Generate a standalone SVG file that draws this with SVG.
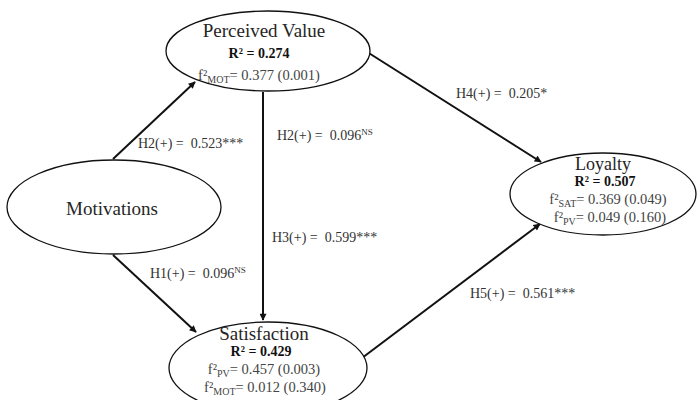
<svg xmlns="http://www.w3.org/2000/svg" width="699" height="400" viewBox="0 0 699 400">
<defs>
<marker id="arr" viewBox="0 0 10 10" refX="9" refY="5" markerWidth="8" markerHeight="7" markerUnits="userSpaceOnUse" orient="auto">
<path d="M0,0 L10,5 L0,10 Z" fill="#111"/>
</marker>
<style>
.edge{stroke:#111;stroke-width:2;fill:none;marker-end:url(#arr)}
.node{fill:#fff;stroke:#111;stroke-width:1.3}
text{font-family:"Liberation Serif","Times New Roman",serif}
.name{font-size:19px;fill:#262626;text-anchor:middle}
.r2{font-size:14px;font-weight:bold;fill:#111;text-anchor:middle}
.f2{font-size:14.5px;fill:#444;text-anchor:middle}
.lbl{font-size:14px;fill:#333}
</style>
</defs>
<rect width="699" height="400" fill="#fff"/>
<g id="connectors">
<line class="edge" x1="113" y1="159" x2="195" y2="82"/>
<line class="edge" x1="113" y1="255" x2="196" y2="332"/>
<line class="edge" x1="263" y1="92" x2="263" y2="320"/>
<line class="edge" x1="364" y1="50" x2="541" y2="162"/>
<line class="edge" x1="362" y1="358" x2="540" y2="224"/>
<g id="edge-labels">
<text class="lbl" x="138" y="148" xml:space="preserve">H2(+) =  0.523***</text>
<text class="lbl" x="277" y="140" xml:space="preserve">H2(+) =  0.096<tspan font-size="9" dy="-5">NS</tspan></text>
<text class="lbl" x="272" y="242" xml:space="preserve">H3(+) =  0.599***</text>
<text class="lbl" x="456" y="98" xml:space="preserve">H4(+) =  0.205*</text>
<text class="lbl" x="150" y="278" xml:space="preserve">H1(+) =  0.096<tspan font-size="9" dy="-5">NS</tspan></text>
<text class="lbl" x="470" y="298" xml:space="preserve">H5(+) =  0.561***</text>
</g>
</g>
<g id="perceived-value">
<ellipse class="node" cx="268" cy="51" rx="102" ry="40"/>
<text class="name" x="264" y="37">Perceived Value</text>
<text class="r2" x="259" y="58">R² = 0.274</text>
<text class="f2" x="259" y="80">f²<tspan font-size="10" dy="3">MOT</tspan><tspan dy="-3">= 0.377 (0.001)</tspan></text>
</g>
<g id="motivations">
<ellipse class="node" cx="114" cy="207" rx="107" ry="47"/>
<text class="name" x="112" y="215">Motivations</text>
</g>
<g id="loyalty">
<ellipse class="node" cx="603" cy="194" rx="93" ry="41"/>
<text class="name" x="603" y="170" style="font-size:18px">Loyalty</text>
<text class="r2" x="605" y="186">R² = 0.507</text>
<text class="f2" x="608" y="204">f²<tspan font-size="10" dy="3">SAT</tspan><tspan dy="-3">= 0.369 (0.049)</tspan></text>
<text class="f2" x="610" y="222">f²<tspan font-size="10" dy="3">PV</tspan><tspan dy="-3">= 0.049 (0.160)</tspan></text>
</g>
<g id="satisfaction">
<ellipse class="node" cx="268" cy="368" rx="99" ry="46"/>
<text class="name" x="264" y="340">Satisfaction</text>
<text class="r2" x="261" y="356">R² = 0.429</text>
<text class="f2" x="264" y="374">f²<tspan font-size="10" dy="3">PV</tspan><tspan dy="-3">= 0.457 (0.003)</tspan></text>
<text class="f2" x="265" y="392">f²<tspan font-size="10" dy="3">MOT</tspan><tspan dy="-3">= 0.012 (0.340)</tspan></text>
</g>
</svg>
